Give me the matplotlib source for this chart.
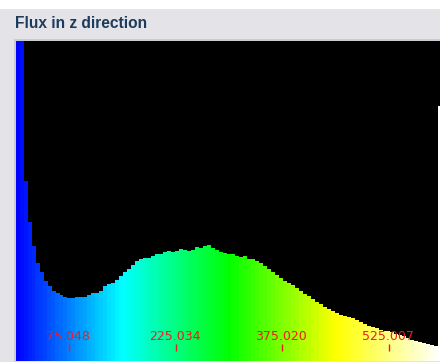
import numpy as np
import matplotlib
matplotlib.use("Agg")
import matplotlib.pyplot as plt
from matplotlib.colors import LinearSegmentedColormap
from matplotlib.patches import Rectangle
from matplotlib.transforms import blended_transform_factory

# ---- data -------------------------------------------------------------
title = "Flux in z direction"
x_min, x_max = 0.0, 600.0
n_bins = 107
counts = [400, 400, 180, 139, 115, 98, 89, 80, 75, 70,
          68, 66, 64, 63, 63, 64, 64, 64, 66, 68,
          68, 70, 75, 77, 78, 81, 85, 89, 92, 96,
          100, 102, 103, 103, 105, 107, 107, 109, 110, 109,
          110, 112, 111, 110, 111, 114, 113, 115, 116, 113,
          111, 109, 108, 107, 107, 105, 104, 105, 102, 102,
          100, 98, 95, 92, 89, 86, 83, 80, 78, 76,
          73, 70, 67, 65, 62, 59, 57, 54, 52, 50,
          48, 46, 45, 44, 43, 41, 39, 37, 35, 34,
          33, 31, 30, 30, 29, 27, 26, 25, 23, 21,
          20, 19, 18, 17, 16, 15, 255]
tick_values = [75.048, 225.034, 375.020, 525.007]
tick_labels = ["75.048", "225.034", "375.020", "525.007"]
y_max = 320

# ---- figure -----------------------------------------------------------
W, H = 440, 362
fig = plt.figure(figsize=(W / 100, H / 100), dpi=100)
panel = "#e3e3e8"
fig.patch.set_facecolor(panel)

# white strip at top
fig.add_artist(Rectangle((0, 1 - 9 / H), 1, 9 / H, transform=fig.transFigure,
                         facecolor="white", edgecolor="none", zorder=0))
# frame around plot area
fig.add_artist(Rectangle((13.5 / W, 0), 2 / W, 1 - 39.5 / H, transform=fig.transFigure,
                         facecolor="#cbcbd0", edgecolor="none", zorder=0))
fig.add_artist(Rectangle((13.5 / W, 1 - 41 / H), 1, 1.5 / H, transform=fig.transFigure,
                         facecolor="#cbcbd0", edgecolor="none", zorder=0))

fig.text(15 / W, 1 - 24 / H, title, fontsize=11.2, fontweight="bold",
         family="Liberation Sans", color="#1d3c5c", va="center", ha="left")

left_px, right_px = 15.6, 442.3
top_px, bot_px = 41, 361
ax = fig.add_axes([left_px / W, (H - bot_px) / H,
                   (right_px - left_px) / W, (bot_px - top_px) / H])
ax.set_facecolor("black")
for s in ax.spines.values():
    s.set_visible(False)
ax.set_xticks([])
ax.set_yticks([])

edges = np.linspace(x_min, x_max, n_bins + 1)
centers = (edges[:-1] + edges[1:]) / 2
width = edges[1] - edges[0]

cmap = LinearSegmentedColormap.from_list(
    "flux", [(0, 0, 1), (0, 1, 1), (0, 1, 0), (1, 1, 0), (1, 1, 1)])
colors = cmap((centers - x_min) / (x_max - x_min))
ax.bar(centers, counts, width=width * 1.02, color=colors, edgecolor="none",
       linewidth=0, align="center")
ax.set_xlim(x_min, x_max)
ax.set_ylim(0, y_max)

trans = blended_transform_factory(ax.transData, fig.transFigure)
for v, lab in zip(tick_values, tick_labels):
    ax.text(v - 1.5, 1 - 337 / H, lab, transform=trans, color="#ee1c1c",
            fontsize=9, family="DejaVu Sans", ha="center", va="center")
    ax.plot([v, v], [1 - 344 / H, 1 - 351 / H], transform=trans,
            color="#ee1c1c", linewidth=1, solid_capstyle="butt")

fig.savefig("out.png", dpi=100, facecolor=fig.get_facecolor())
